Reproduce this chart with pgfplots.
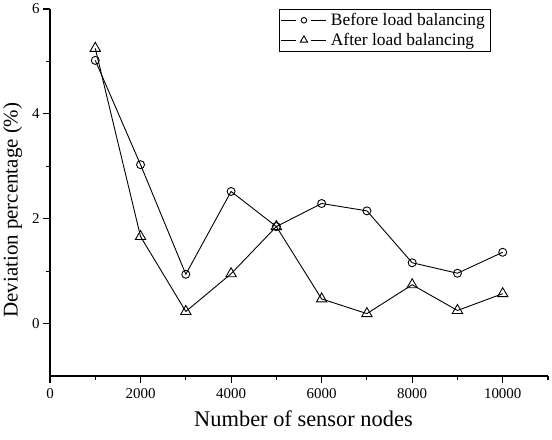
\documentclass[border=0pt]{standalone}
\usepackage{fontspec}
\setmainfont{Liberation Serif}
\usepackage{pgfplots}
\pgfplotsset{compat=1.18}
\begin{document}
\begin{tikzpicture}
\begin{axis}[
 scale only axis, width=498bp, height=367bp,
 xmin=0, xmax=11000, ymin=-1, ymax=6,
 axis x line=bottom, axis y line=left,
 axis line style={-, line width=1.1bp, black},
 xtick={0,2000,4000,6000,8000,10000}, minor xtick={1000,3000,5000,7000,9000,11000},
 ytick={0,2,4,6}, minor ytick={1,3,5},
 tick align=outside, major tick length=7bp, minor tick length=4bp,
 every tick/.style={line width=1.1bp, black},
 scaled x ticks=false,
 /pgf/number format/1000 sep={},
 /pgf/number format/assume math mode=true,
 tick label style={font=\fontsize{15}{17}\selectfont},
 xticklabel style={yshift=-2.5bp},
 xlabel={Number of sensor nodes}, ylabel={Deviation percentage (\%)},
 xlabel style={font=\fontsize{22.5}{26}\selectfont, at={(ticklabel cs:0.509)}, yshift=-5bp},
 ylabel style={font=\fontsize{21}{24}\selectfont, at={(ticklabel cs:0.452)}, yshift=3bp},
 legend style={at={(0.886,1)}, anchor=north east, draw=black, line width=0.8bp,
   font=\fontsize{17.5}{20}\selectfont, inner xsep=2bp, inner ysep=2bp, row sep=2bp,
   nodes={inner xsep=4bp}},
 legend cell align=left,
 legend image code/.code={
   \draw[#1, mark=none] (0bp,0bp) -- (15bp,0bp);
   \draw[#1, mark=none] (30bp,0bp) -- (45bp,0bp);
   \draw[#1, mark options={fill=white, solid, scale=0.7}] plot coordinates {(22.5bp,0bp)};
 },
]
\addplot[black, line width=0.9bp, mark=o, mark size=4bp, mark options={fill=white, line width=0.9bp}]
 coordinates {(1000,5.02) (2000,3.03) (3000,0.94) (4000,2.52) (5000,1.85) (6000,2.29) (7000,2.15) (8000,1.16) (9000,0.96) (10000,1.36)};
\addlegendentry{Before load balancing}
\addplot[black, line width=0.9bp, mark=triangle, mark size=6bp, mark options={fill=white, line width=0.9bp}]
 coordinates {(1000,5.25) (2000,1.66) (3000,0.23) (4000,0.95) (5000,1.85) (6000,0.47) (7000,0.19) (8000,0.74) (9000,0.25) (10000,0.57)};
\addlegendentry{After load balancing}
\end{axis}
\pgfresetboundingbox
\useasboundingbox (-50bp,-64bp) rectangle (502bp,376bp);
\end{tikzpicture}
\end{document}
